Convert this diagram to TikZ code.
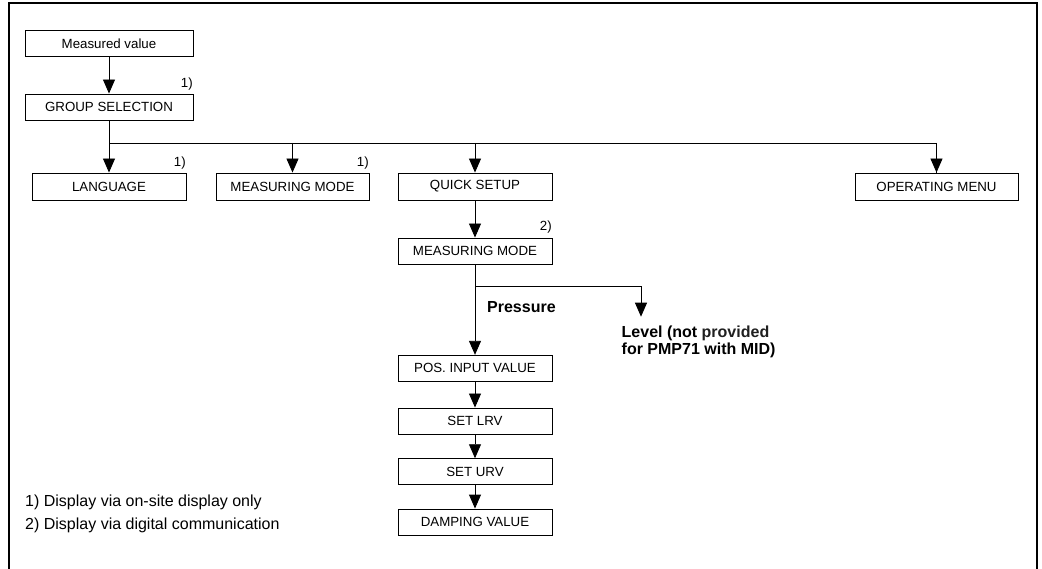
\documentclass[tikz,border=0pt]{standalone}
\usepackage{fontspec}
\setmainfont{Liberation Sans}
\usetikzlibrary{arrows.meta}
\begin{document}
\begin{tikzpicture}[x=1pt,y=-1pt,
  menubox/.style={draw=black,line width=0.9pt,minimum height=26pt,inner sep=0pt,
    font=\fontsize{13.3}{16}\selectfont},
  flow/.style={line width=0.9pt,-{Triangle[length=14pt,width=12pt]}},
  link/.style={line width=0.9pt},
  note/.style={font=\fontsize{13.3}{16}\selectfont,inner sep=0pt,anchor=east},
  branchtext/.style={font=\fontsize{16}{17}\selectfont\bfseries,inner sep=0pt,anchor=west,align=left},
  foot/.style={font=\fontsize{16}{19}\selectfont,inner sep=0pt,anchor=west}]
\useasboundingbox (0,0) rectangle (1042,569);
% outer frame (open at the bottom)
\draw[line width=1.2pt] (9,569) -- (9,3) -- (1037,3) -- (1037,569);

% menu boxes
\node[menubox,minimum width=168pt] (mv)   at (109,43.3)  {Measured value};
\node[menubox,minimum width=168pt] (gs)   at (109,107)   {GROUP SELECTION};
\node[menubox,minimum width=154pt,minimum height=27pt] (lang) at (109,186.5) {LANGUAGE};
\node[menubox,minimum width=153pt,minimum height=27pt] (mma)  at (292.5,186.5) {MEASURING MODE};
\node[menubox,minimum width=154pt,minimum height=27pt] (qs)   at (475,186.5) {QUICK SETUP};
\node[menubox,minimum width=163pt,minimum height=27pt] (om)   at (936.5,186.5) {OPERATING MENU};
\node[menubox,minimum width=154pt] (mmb)  at (475,251)   {MEASURING MODE};
\node[menubox,minimum width=154pt] (piv)  at (475,368.3) {POS. INPUT VALUE};
\node[menubox,minimum width=154pt] (lrv)  at (475,421)   {SET LRV};
\node[menubox,minimum width=154pt] (urv)  at (475,471.7) {SET URV};
\node[menubox,minimum width=154pt] (dv)   at (475,522)   {DAMPING VALUE};

% footnote markers
\node[note] (n1) at (193,84)  {1)};
\node[note] (n2) at (186,163) {1)};
\node[note] (n3) at (369,163) {1)};
\node[note] (n4) at (552,227) {2)};

% branch texts
\node[branchtext] (pr)  at (487,306.7) {Pressure};
\node[branchtext] (lev) at (621.5,341.5) {Level (not \textcolor{black!88}{provided}\\for PMP71 with MID)};

% footnotes
\node[foot] (f1) at (25,502) {1) Display via on-site display only};
\node[foot] (f2) at (25,525) {2) Display via digital communication};

% junction points
\coordinate (j0) at (109,143);
\coordinate (j1) at (475,286.7);
\coordinate (lvtip) at (641,316.7);

% connectors
\draw[flow] (mv) -- (gs);
\draw[link] (gs) -- (j0) -| (om.north);
\draw[flow] (j0) -- (lang);
\draw[flow] (j0 -| mma) -- (mma);
\draw[flow] (j0 -| qs) -- (qs);
\draw[flow] (j0 -| om) -- (om);
\draw[flow] (qs) -- (mmb);
\draw[flow] (mmb) -- (piv);
\draw[flow] (j1) -| (lvtip);
\draw[flow] (piv) -- (lrv);
\draw[flow] (lrv) -- (urv);
\draw[flow] (urv) -- (dv);
\end{tikzpicture}
\end{document}
